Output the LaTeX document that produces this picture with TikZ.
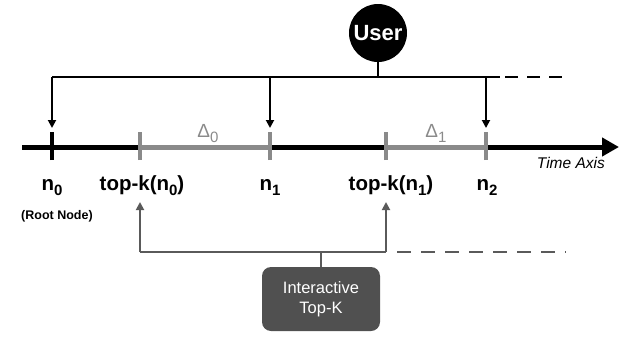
\documentclass[tikz,border=0pt]{standalone}
\usepackage{fontspec}
\setmainfont{Liberation Sans}
\usetikzlibrary{arrows.meta}
\definecolor{axgray}{HTML}{8A8A8A}
\definecolor{dkgray}{HTML}{5A5A5A}
\definecolor{boxgray}{HTML}{505050}
\newcommand{\mysub}[1]{\raisebox{-5pt}{\fontsize{15}{15}\selectfont #1}}
\begin{document}
\begin{tikzpicture}[x=1pt,y=-1pt,
  lbl/.style={font=\fontsize{20.5}{20.5}\selectfont\bfseries, anchor=base, inner sep=0pt},
  dlt/.style={font=\fontsize{19}{19}\selectfont, text=axgray, anchor=base, inner sep=0pt},
  busblack/.style={line width=1.8pt, black},
  busgray/.style={line width=1.8pt, dkgray},
  downarrow/.style={busblack, -{Triangle[length=8pt,width=8pt]}},
  uparrow/.style={busgray, -{Triangle[length=8pt,width=8pt]}},
  blacktick/.style={line width=4.5pt, black},
  graytick/.style={line width=4.5pt, axgray},
  dashblack/.style={busblack, dash pattern=on 13pt off 9pt},
  dashgray/.style={busgray, dash pattern=on 14pt off 10pt},
]
\useasboundingbox (0,0) rectangle (633,338);

% User node
\node[circle, fill=black, minimum size=58pt, inner sep=0pt, text=white,
      font=\fontsize{22}{22}\selectfont\bfseries] (user) at (378,33) {User};

% Interactive Top-K box
\node[rectangle, rounded corners=9pt, fill=boxgray, minimum width=118pt, minimum height=64pt,
      text=white, align=center, font=\fontsize{16.5}{20}\selectfont] (itk) at (321,299) {Interactive\\Top-K};

% Time axis
\coordinate (axs) at (22,147);
\coordinate (axe) at (619,147);
\coordinate (t0) at (52,147);
\coordinate (tk0) at (140,147);
\coordinate (t1) at (270,147);
\coordinate (tk1) at (386,147);
\coordinate (t2) at (486,147);
\draw[line width=5pt, black, -{Triangle[length=17pt,width=18pt]}] (axs) -- (axe);
\draw[line width=5pt, axgray] (tk0) -- (t1);
\draw[line width=5pt, axgray] (tk1) -- (t2);
\draw[blacktick] ([yshift=-13pt]t0) -- ([yshift=15pt]t0);
\foreach \c in {tk0,t1,tk1,t2}{
  \draw[graytick] ([yshift=-13pt]\c) -- ([yshift=15pt]\c);
}

% Top bus from User
\coordinate (ub) at (378,77);
\coordinate (b0) at (52,77);
\coordinate (b1) at (270,77);
\coordinate (b2) at (486,77);
\coordinate (bend) at (500,77);
\coordinate (bds) at (505,77);
\coordinate (bde) at (566,77);
\coordinate (a0) at (52,128);
\coordinate (a1) at (270,128);
\coordinate (a2) at (486,128);
\draw[busblack] (user.south) -- (ub);
\draw[busblack] (b0) -- (bend);
\draw[dashblack] (bds) -- (bde);
\draw[downarrow] (b0) -- (a0);
\draw[downarrow] (b1) -- (a1);
\draw[downarrow] (b2) -- (a2);

% Bottom bus from Interactive Top-K
\coordinate (gb) at (321,252);
\coordinate (g0) at (140,252);
\coordinate (g1) at (386,252);
\coordinate (gds) at (397,252);
\coordinate (gde) at (566,252);
\coordinate (u0) at (140,202);
\coordinate (u1) at (386,202);
\draw[busgray] (itk.north) -- (gb);
\draw[busgray] (g0) -- (g1);
\draw[dashgray] (gds) -- (gde);
\draw[uparrow] (g0) -- (u0);
\draw[uparrow] (g1) -- (u1);

% Labels
\node[lbl] (ln0) at (52,190) {n\mysub{0}};
\node[lbl] (ltk0) at (142,190) {top-k(n\mysub{0})};
\node[lbl] (ln1) at (270,190) {n\mysub{1}};
\node[lbl] (ltk1) at (391,190) {top-k(n\mysub{1})};
\node[lbl] (ln2) at (487,190) {n\mysub{2}};
\node[font=\fontsize{12.5}{12.5}\selectfont\bfseries, anchor=base, inner sep=0pt] (root) at (57,219) {(Root Node)};
\node[dlt] (d0) at (208,137) {Δ\mysub{0}};
\node[dlt] (d1) at (436,137) {Δ\mysub{1}};
\node[font=\fontsize{15.5}{15.5}\selectfont\itshape, anchor=base east, inner sep=0pt] (tax) at (605,168) {Time Axis};
\end{tikzpicture}
\end{document}
